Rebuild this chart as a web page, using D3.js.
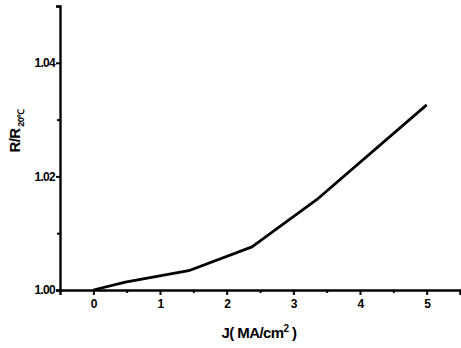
<!DOCTYPE html>
<html><head><meta charset="utf-8">
<script src="https://cdn.jsdelivr.net/npm/d3@7"></script>
<style>
body{margin:0;background:#fff;}
svg{display:block;}
text{font-family:"Liberation Sans",Arial,sans-serif;font-weight:bold;fill:#000;}
</style></head>
<body><svg id="c" width="461" height="348"></svg>
<script>
const jValues = [0, 0.48, 1.43, 2.38, 3.35, 5.0];
const rValues = [1.0000, 1.0014, 1.0034, 1.0076, 1.0159, 1.0326];
const xMajorTicks = [0, 1, 2, 3, 4, 5];
const xMinorTicks = [0.5, 1.5, 2.5, 3.5, 4.5, 5.5];
const yMajorTicks = [1.00, 1.02, 1.04];
const yMinorTicks = [1.01, 1.03, 1.05];

const svg = d3.select("#c");
const L = 60, R = 460, T = 6, B = 290;
const x = d3.scaleLinear().domain([-0.5, 5.5]).range([L, R]);
const y = d3.scaleLinear().domain([1.00, 1.05]).range([B, T]);

// x axis
const gx = svg.append("g").attr("transform", `translate(0,${B})`);
gx.call(d3.axisBottom(x).tickValues(xMajorTicks).tickSize(5).tickPadding(4).tickFormat(d3.format("d")));
gx.append("g").call(d3.axisBottom(x).tickValues(xMinorTicks).tickSize(3).tickFormat(""))
  .select(".domain").remove();
// y axis
const gy = svg.append("g").attr("transform", `translate(${L},0)`);
gy.call(d3.axisLeft(y).tickValues(yMajorTicks).tickSize(4).tickPadding(1).tickFormat(d3.format(".2f")));
gy.append("g").call(d3.axisLeft(y).tickValues(yMinorTicks).tickSize(3).tickFormat(""))
  .select(".domain").remove();

svg.selectAll(".domain").attr("stroke", "#000").attr("stroke-width", 2.4);
svg.selectAll(".tick line").attr("stroke", "#000").attr("stroke-width", 2);
svg.selectAll(".tick text").style("font-size", "12px").style("letter-spacing", "-0.7px");

// line
svg.append("path")
  .datum(jValues.map((j, i) => [j, rValues[i]]))
  .attr("fill", "none").attr("stroke", "#000").attr("stroke-width", 2.8)
  .attr("stroke-linejoin", "round")
  .attr("d", d3.line().x(d => x(d[0])).y(d => y(d[1])));

// x label
const xl = svg.append("text").attr("x", 259).attr("y", 338).attr("text-anchor", "middle")
  .style("font-size", "15px").style("letter-spacing", "-0.6px");
xl.append("tspan").text("J( MA/cm");
xl.append("tspan").attr("dy", -6).style("font-size", "10px").text("2");
xl.append("tspan").attr("dy", 6).text(" )");

// y label
const yl = svg.append("text").attr("transform", "translate(20,131) rotate(-90)")
  .attr("text-anchor", "middle").style("font-size", "15px").style("letter-spacing", "-0.6px");
yl.append("tspan").text("R/R");
yl.append("tspan").attr("dy", 4).style("font-size", "9px").text(" 20\u2103");
</script></body></html>
